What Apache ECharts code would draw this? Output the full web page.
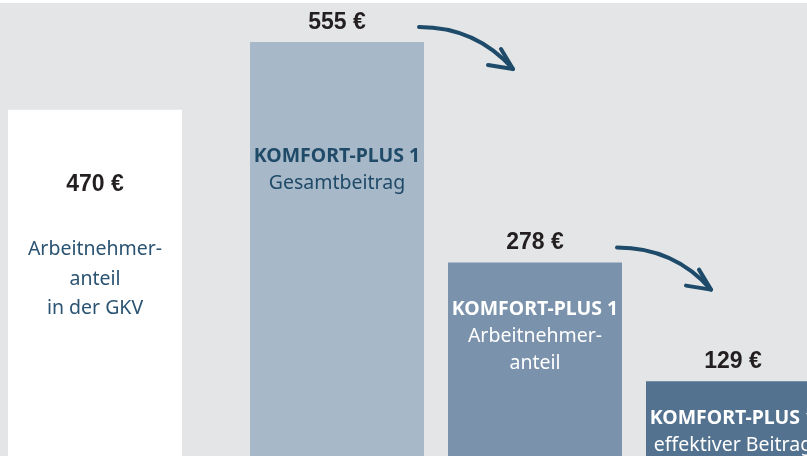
<!DOCTYPE html>
<html>
<head>
    <meta charset="utf-8">
    <script src="https://cdn.jsdelivr.net/npm/echarts@6/dist/echarts.min.js"></script>
    <style>
        html, body { margin: 0; padding: 0; background: #ffffff; }
        #main { position: absolute; left: 0; top: 3px; width: 807px; height: 453px; }
    </style>
</head>
<body>
    <div id="main"></div>
<script type="text/javascript">
    // Daten
    var categories = ['GKV', 'Gesamtbeitrag', 'Arbeitnehmeranteil', 'effektiver Beitrag'];
    var values = [470, 555, 278, 129];
    var titles = ['', 'KOMFORT-PLUS 1', 'KOMFORT-PLUS 1', 'KOMFORT-PLUS 1'];
    var notes = [
        ['Arbeitnehmer-', 'anteil', 'in der GKV'],
        ['Gesamtbeitrag'],
        ['Arbeitnehmer-', 'anteil'],
        ['effektiver Beitrag']
    ];

    // Stil
    var barColors = ['#ffffff', '#a7b8c8', '#7a92ab', '#52728f'];
    var textColors = ['#2b5372', '#1f4a68', '#ffffff', '#ffffff'];
    var noteDistance = [125, 101, 33, 24];
    var arrowColor = '#1d4b69';
    var sansFont = '"Noto Sans", sans-serif';
    var valueFont = '"Liberation Sans", Arial, sans-serif';

    var chart = echarts.init(document.getElementById('main'));

    var yMax = 604;

    function noteLabel(i) {
        var lines = [];
        if (titles[i]) lines.push('{t|' + titles[i] + '}');
        notes[i].forEach(function (n) { lines.push('{s|' + n + '}'); });
        return {
            show: true,
            position: 'insideTop',
            distance: noteDistance[i],
            formatter: lines.join('\n'),
            textBorderWidth: 0,
            rich: {
                t: { fontFamily: sansFont, fontWeight: 'bold', fontSize: 19.5, lineHeight: 27, color: textColors[i] },
                s: { fontFamily: sansFont, fontSize: 19.5, lineHeight: i === 0 ? 29.5 : 27, color: textColors[i] }
            }
        };
    }

    var valueLabel = {
        show: true,
        position: 'top',
        distance: 8,
        formatter: '{c} €',
        fontFamily: valueFont,
        fontWeight: 'bold',
        fontSize: 23,
        color: '#231f20',
        textBorderWidth: 0
    };

    var option = {
        backgroundColor: '#e4e5e7',
        animation: false,
        grid: [
            { left: 8, width: 174, top: 0, bottom: -28, outerBoundsMode: 'none' },
            { left: 238, width: 594, top: 0, bottom: -28, outerBoundsMode: 'none' }
        ],
        xAxis: [
            { type: 'category', gridIndex: 0, data: categories.slice(0, 1), show: false },
            { type: 'category', gridIndex: 1, data: categories.slice(1), show: false }
        ],
        yAxis: [
            { type: 'value', gridIndex: 0, min: 0, max: yMax, show: false },
            { type: 'value', gridIndex: 1, min: 0, max: yMax, show: false }
        ],
        series: [
            {
                type: 'bar',
                xAxisIndex: 0, yAxisIndex: 0,
                barWidth: 174,
                data: [{ value: values[0], itemStyle: { color: barColors[0] } }],
                label: Object.assign({}, valueLabel, { position: 'insideTop', distance: 63 })
            },
            {
                type: 'bar',
                xAxisIndex: 0, yAxisIndex: 0,
                barWidth: 174,
                barGap: '-100%',
                silent: true,
                itemStyle: { color: 'rgba(0,0,0,0)' },
                data: [{ value: values[0], label: noteLabel(0) }]
            },
            {
                type: 'bar',
                xAxisIndex: 1, yAxisIndex: 1,
                barWidth: 174,
                data: values.slice(1).map(function (v, k) {
                    return { value: v, itemStyle: { color: barColors[k + 1] } };
                }),
                label: valueLabel
            },
            {
                type: 'bar',
                xAxisIndex: 1, yAxisIndex: 1,
                barWidth: 174,
                barGap: '-100%',
                silent: true,
                itemStyle: { color: 'rgba(0,0,0,0)' },
                data: values.slice(1).map(function (v, k) {
                    return { value: v, label: noteLabel(k + 1) };
                })
            }
        ]
    };

    chart.setOption(option);

    // Pfeile zwischen den Balken
    var arrows = [];
    [0, 1].forEach(function (k) {
        var p = chart.convertToPixel({ gridIndex: 1 }, [k, values[k + 1]]);
        var right = p[0] + 87;
        var top = p[1];
        var sx = right - 5, sy = top - 15;
        var tx = right + 89, ty = top + 27;
        arrows.push({
            type: 'bezierCurve',
            shape: { x1: sx, y1: sy, cpx1: sx + 57, cpy1: sy, x2: tx, y2: ty },
            style: { stroke: arrowColor, lineWidth: 4, fill: null, lineCap: 'round' }
        });
        arrows.push({
            type: 'polyline',
            shape: { points: [[tx - 25, ty - 4], [tx, ty], [tx - 12, ty - 20]] },
            style: { stroke: arrowColor, lineWidth: 4, fill: null, lineCap: 'round', lineJoin: 'round' }
        });
    });
    chart.setOption({ graphic: arrows });
</script>
</body>
</html>
